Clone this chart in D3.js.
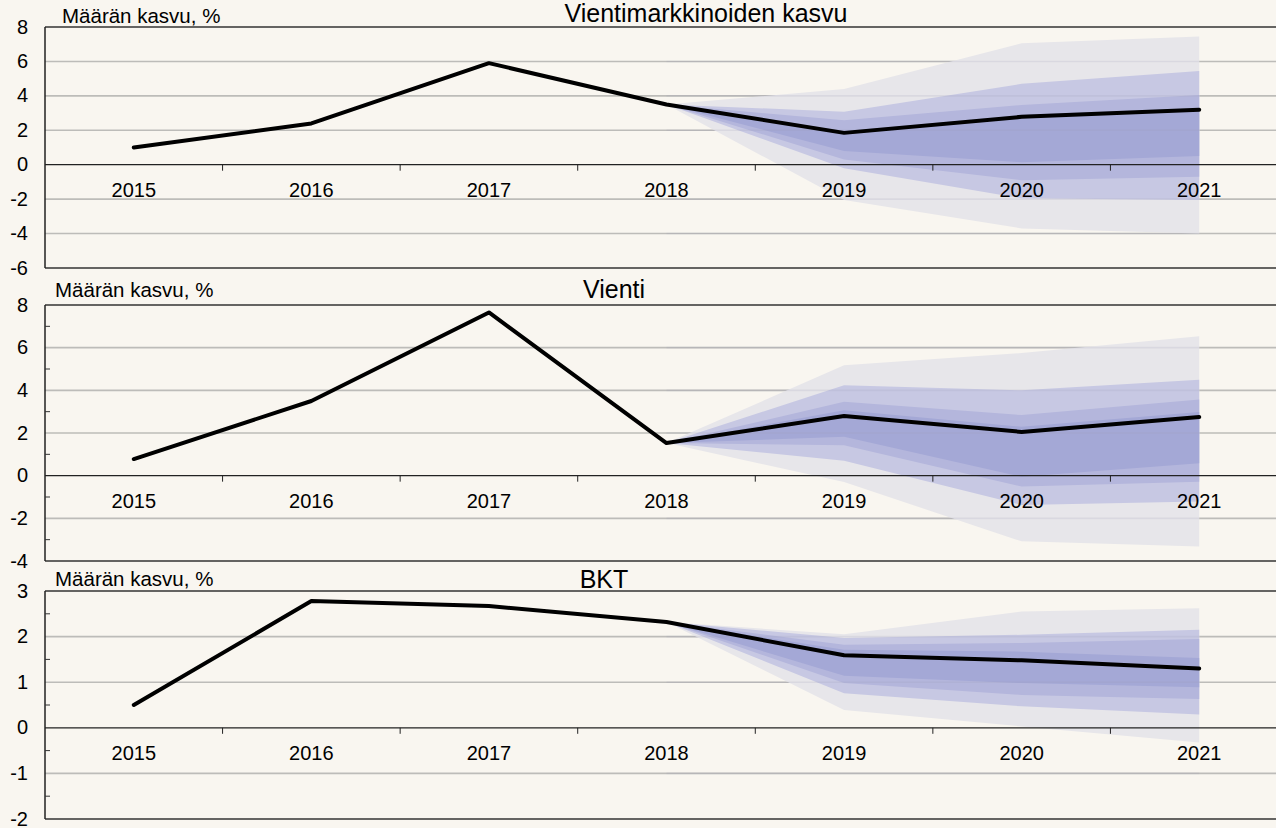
<!DOCTYPE html>
<html>
<head>
<meta charset="utf-8">
<script src="https://cdn.jsdelivr.net/npm/d3@7"></script>
<style>
  body { margin: 0; background: #f9f6f0; }
  svg { display: block; }
  text { font-family: "Liberation Sans", Arial, sans-serif; fill: #000; }
</style>
</head>
<body>
<svg id="chart" width="1276" height="828"></svg>
<script>
// categories
const years = ["2015", "2016", "2017", "2018", "2019", "2020", "2021"];
const fan_years = ["2018", "2019", "2020", "2021"];
const panel_titles = ["Vientimarkkinoiden kasvu", "Vienti", "BKT"];
const unit_label = "Määrän kasvu, %";

// y tick labels per panel
const markets_ticks = [-6, -4, -2, 0, 2, 4, 6, 8];
const exports_ticks = [-4, -2, 0, 2, 4, 6, 8];
const gdp_ticks = [-2, -1, 0, 1, 2, 3];

// central path (volume growth, %)
const markets_growth = [1.0, 2.4, 5.9, 3.5, 1.85, 2.78, 3.2];
const exports_growth = [0.78, 3.5, 7.65, 1.53, 2.8, 2.05, 2.75];
const gdp_growth = [0.5, 2.78, 2.67, 2.32, 1.59, 1.48, 1.3];

// fan bands, outermost first (values at 2018..2021)
const markets_fan_low = [
    [3.5, -2.05, -3.7, -4.0],
    [3.5, -0.2, -1.95, -2.05],
    [3.5, 0.3, -0.9, -0.7],
    [3.5, 0.8, 0.15, 0.5]
];
const markets_fan_high = [
    [3.5, 4.4, 7.05, 7.45],
    [3.5, 3.08, 4.7, 5.45],
    [3.5, 2.58, 3.47, 4.05],
    [3.5, 1.95, 2.9, 3.3]
];
const exports_fan_low = [
    [1.53, -0.3, -3.08, -3.32],
    [1.53, 0.7, -1.37, -1.21],
    [1.53, 1.43, -0.51, -0.28],
    [1.53, 1.82, -0.05, 0.58]
];
const exports_fan_high = [
    [1.53, 5.17, 5.75, 6.53],
    [1.53, 4.24, 4.0, 4.5],
    [1.53, 3.46, 2.84, 3.57],
    [1.53, 3.07, 2.29, 2.99]
];
const gdp_fan_low = [
    [2.32, 0.39, 0.03, -0.32],
    [2.32, 0.76, 0.47, 0.29],
    [2.32, 0.98, 0.72, 0.63],
    [2.32, 1.14, 0.98, 0.89]
];
const gdp_fan_high = [
    [2.32, 2.05, 2.55, 2.62],
    [2.32, 1.97, 2.04, 2.15],
    [2.32, 1.82, 1.86, 1.95],
    [2.32, 1.71, 1.67, 1.53]
];

const fan_colors = ["#e7e6ea", "#c7c8e3", "#b4b6dc", "#a4a8d6"];

const chart_width = 1276;
const plot_left = 45;

const svg = d3.select("#chart");
svg.append("rect").attr("width", chart_width).attr("height", 828).attr("fill", "#f9f6f0");

// shared x scale, the last band runs past the picture edge
const x = d3.scaleBand().domain(years).range([plot_left, 1288]).padding(0);
const x_mid = d => x(d) + x.bandwidth() / 2;

const panels = [
    { ticks: markets_ticks, values: markets_growth, low: markets_fan_low, high: markets_fan_high,
      top: 27, bottom: 268, minor: null, sub_x: 62, sub_y: 23, title_x: 706, title_y: 22 },
    { ticks: exports_ticks, values: exports_growth, low: exports_fan_low, high: exports_fan_high,
      top: 305, bottom: 561, minor: 1, sub_x: 55, sub_y: 297, title_x: 614, title_y: 298 },
    { ticks: gdp_ticks, values: gdp_growth, low: gdp_fan_low, high: gdp_fan_high,
      top: 591, bottom: 819, minor: 0.5, sub_x: 55, sub_y: 586, title_x: 604, title_y: 588 }
];

panels.forEach((p, i) => {
    const y = d3.scaleLinear().domain(d3.extent(p.ticks)).range([p.bottom, p.top]);
    const g = svg.append("g").attr("class", "panel-" + i);
    const inner_ticks = p.ticks.filter(t => t !== 0 && t !== y.domain()[0] && t !== y.domain()[1]);

    // gridlines
    g.append("g")
        .selectAll("line")
        .data(inner_ticks)
        .enter()
        .append("line")
        .attr("x1", plot_left)
        .attr("x2", chart_width)
        .attr("y1", d => y(d))
        .attr("y2", d => y(d))
        .attr("stroke", "#bdbcb9")
        .attr("stroke-width", 1.6);

    // fan
    for (let b = 0; b < fan_colors.length; b++) {
        const band = fan_years.map((yr, k) => ({ year: yr, lo: p.low[b][k], hi: p.high[b][k] }));
        g.append("path")
            .datum(band)
            .attr("fill", fan_colors[b])
            .attr("d", d3.area()
                .x(d => x_mid(d.year))
                .y0(d => y(d.lo))
                .y1(d => y(d.hi)));
    }

    // faint gridlines through the fan
    g.append("g")
        .selectAll("line")
        .data(inner_ticks)
        .enter()
        .append("line")
        .attr("x1", x_mid("2018"))
        .attr("x2", x_mid("2021"))
        .attr("y1", d => y(d))
        .attr("y2", d => y(d))
        .attr("stroke", "#9c9cb8")
        .attr("stroke-opacity", 0.18)
        .attr("stroke-width", 1.6);

    // frame
    g.append("line").attr("x1", plot_left).attr("x2", chart_width)
        .attr("y1", p.top).attr("y2", p.top).attr("stroke", "#333").attr("stroke-width", 1.5);
    g.append("line").attr("x1", plot_left).attr("x2", chart_width)
        .attr("y1", p.bottom).attr("y2", p.bottom).attr("stroke", "#333").attr("stroke-width", 1.5);
    g.append("line").attr("x1", plot_left).attr("x2", plot_left)
        .attr("y1", p.top).attr("y2", p.bottom).attr("stroke", "#222").attr("stroke-width", 1.5);

    // minor y ticks
    if (p.minor) {
        const minor_ticks = d3.range(y.domain()[0] + p.minor, y.domain()[1], p.minor * 2);
        g.append("g")
            .selectAll("line")
            .data(minor_ticks)
            .enter()
            .append("line")
            .attr("x1", plot_left)
            .attr("x2", plot_left + 5)
            .attr("y1", d => y(d))
            .attr("y2", d => y(d))
            .attr("stroke", "#333")
            .attr("stroke-width", 1);
    }

    // zero line with ticks between years
    g.append("line").attr("x1", plot_left).attr("x2", chart_width)
        .attr("y1", y(0)).attr("y2", y(0)).attr("stroke", "#222").attr("stroke-width", 1.3);
    g.append("g")
        .selectAll("line")
        .data(years.slice(0, -1))
        .enter()
        .append("line")
        .attr("x1", d => x(d) + x.bandwidth())
        .attr("x2", d => x(d) + x.bandwidth())
        .attr("y1", y(0))
        .attr("y2", y(0) + 6)
        .attr("stroke", "#222")
        .attr("stroke-width", 1);

    // year labels
    const x_axis = g.append("g")
        .attr("transform", "translate(0," + y(0) + ")")
        .call(d3.axisBottom(x).tickSize(0).tickPadding(18));
    x_axis.select(".domain").remove();
    x_axis.selectAll("text").attr("font-size", "20px").style("font-family", null);

    // y labels (plain hyphen for negatives, as in the original)
    const y_axis = g.append("g")
        .attr("transform", "translate(31,0)")
        .call(d3.axisLeft(y).tickValues(p.ticks).tickSize(0).tickPadding(3).tickFormat(d => String(d)));
    y_axis.select(".domain").remove();
    y_axis.selectAll("text")
        .attr("font-size", "20px")
        .attr("dy", "0.3em")
        .style("font-family", null);

    // central path
    g.append("path")
        .datum(p.values)
        .attr("fill", "none")
        .attr("stroke", "#000")
        .attr("stroke-width", 4)
        .attr("stroke-linejoin", "round")
        .attr("stroke-linecap", "round")
        .attr("d", d3.line().x((d, k) => x_mid(years[k])).y(d => y(d)));

    // texts
    g.append("text")
        .attr("x", p.sub_x)
        .attr("y", p.sub_y)
        .attr("font-size", "20.5px")
        .text(unit_label);
    g.append("text")
        .attr("x", p.title_x)
        .attr("y", p.title_y)
        .attr("text-anchor", "middle")
        .attr("font-size", "25px")
        .text(panel_titles[i]);
});
</script>
</body>
</html>
